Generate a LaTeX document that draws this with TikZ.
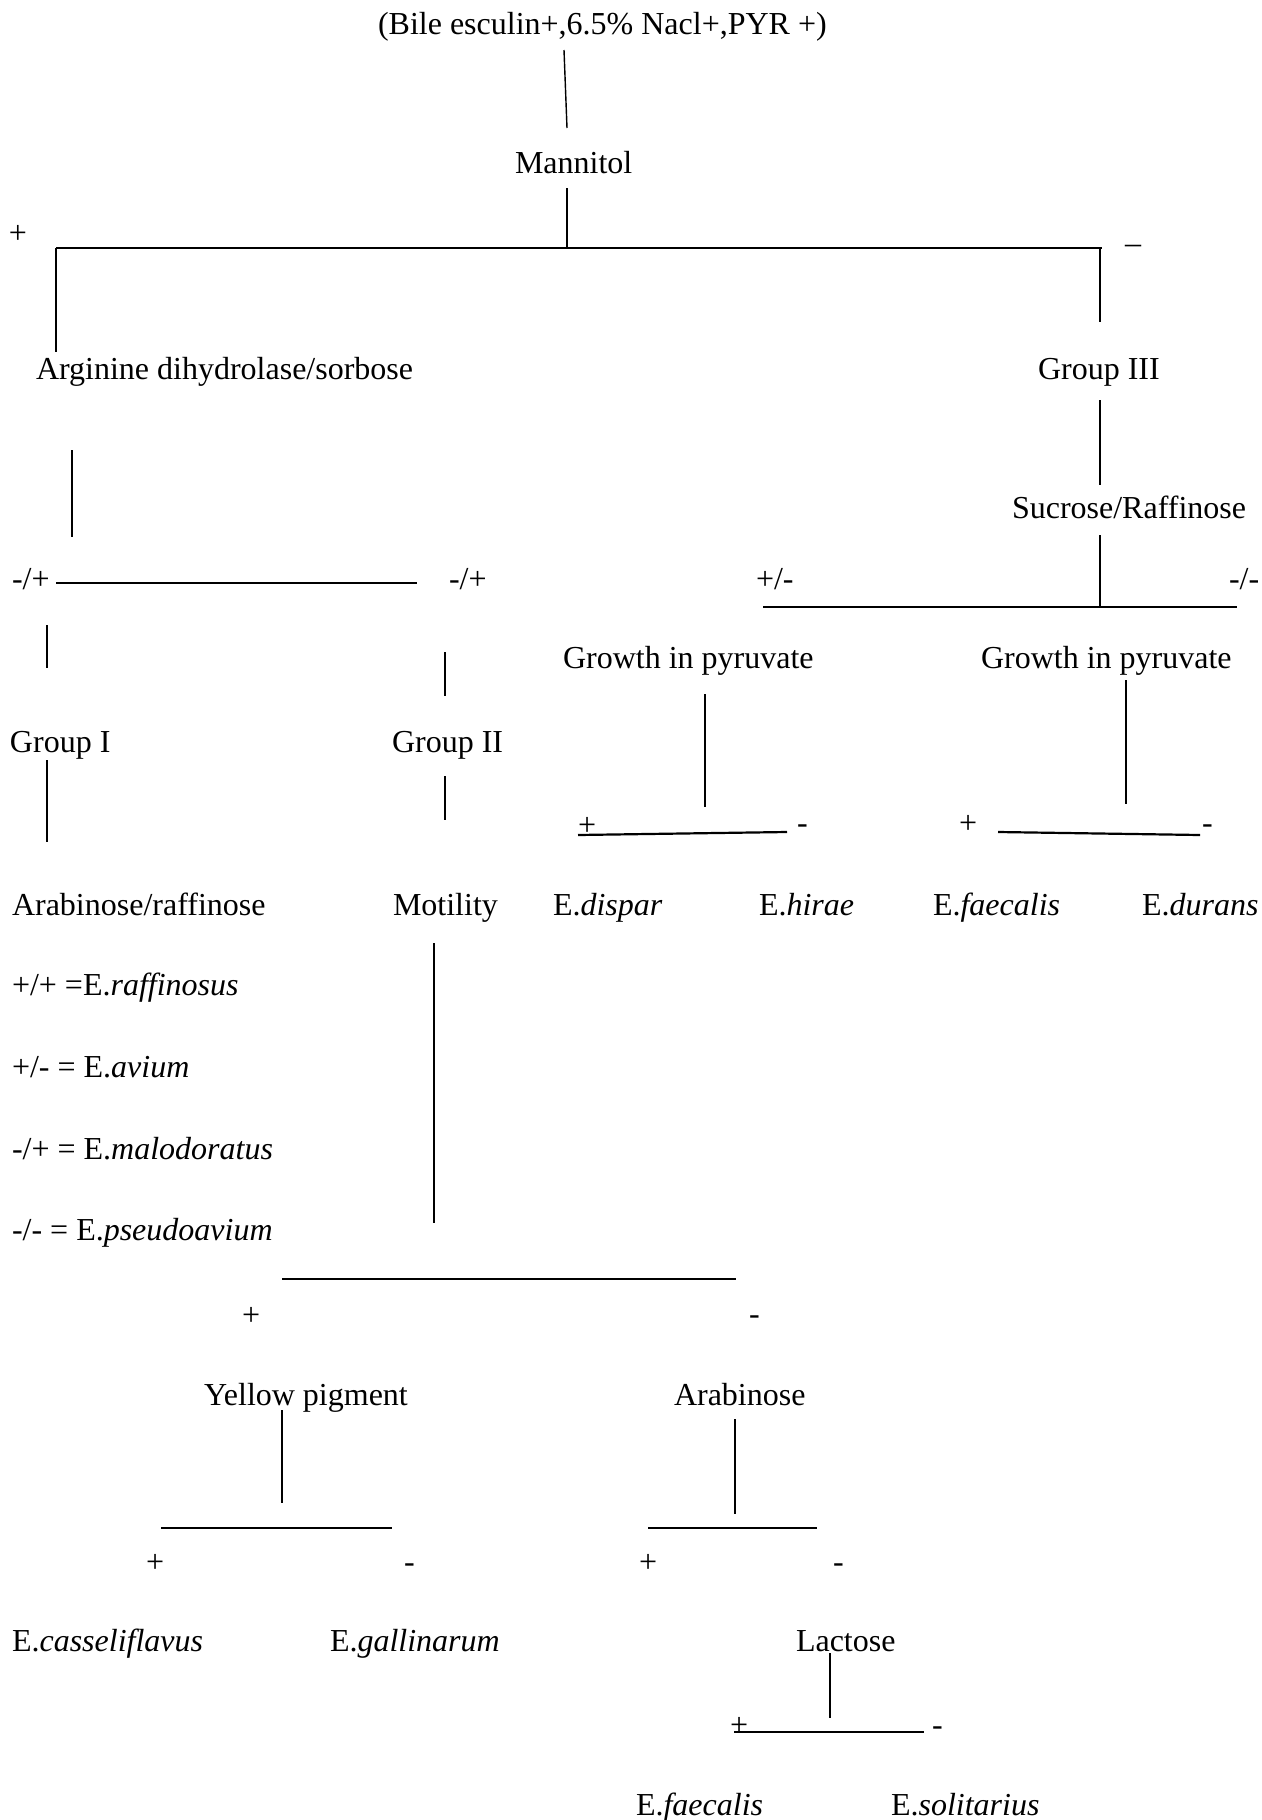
\documentclass[tikz,border=0pt]{standalone}
\usepackage{fontspec}
\setmainfont{Liberation Serif}
\begin{document}
\begin{tikzpicture}[x=0.5pt,y=-0.5pt,
  lbl/.style={anchor=base west,inner sep=0pt,outer sep=0pt,font=\fontsize{16pt}{19pt}\selectfont},
  vline/.style={line width=0.7pt},
  hline/.style={line width=1.1pt}]
\useasboundingbox[fill=white] (0,0) rectangle (1262,1820);
% texts
\node[lbl] (title) at (378,34) {(Bile esculin+,6.5\% Nacl+,PYR +)};
\node[lbl] (mannitol) at (515,173) {Mannitol};
\node[lbl] (pA) at (9,243) {+};
\node[lbl] (mA) at (1125,253) {--};
\node[lbl] (arg) at (36,379) {Arginine dihydrolase/sorbose};
\node[lbl] (g3) at (1038,379) {Group III};
\node[lbl] (suc) at (1012,518) {Sucrose/Raffinose};
\node[lbl] (mp1) at (12,589) {-/+};
\node[lbl] (mp2) at (449,589) {-/+};
\node[lbl] (pm) at (756,589) {+/-};
\node[lbl] (mm) at (1229,589) {-/-};
\node[lbl] (growth1) at (563,668) {Growth in pyruvate};
\node[lbl] (growth2) at (981,668) {Growth in pyruvate};
\node[lbl] (g1) at (10,752) {Group I};
\node[lbl] (g2) at (392,752) {Group II};
\node[lbl] (pB) at (578,835) {+};
\node[lbl] (mB) at (797,833) {-};
\node[lbl] (pC) at (959,833) {+};
\node[lbl] (mC) at (1202,833) {-};
\node[lbl] (arabraf) at (12,915) {Arabinose/raffinose};
\node[lbl] (motility) at (393,915) {Motility};
\node[lbl] (dispar) at (553,915) {E.\textit{dispar}};
\node[lbl] (hirae) at (759,915) {E.\textit{hirae}};
\node[lbl] (faecalis1) at (933,915) {E.\textit{faecalis}};
\node[lbl] (durans) at (1142,915) {E.\textit{durans}};
\node[lbl] (raff) at (12,995) {+/+ =E.\textit{raffinosus}};
\node[lbl] (avium) at (12,1077) {+/- = E.\textit{avium}};
\node[lbl] (malo) at (12,1159) {-/+ = E.\textit{malodoratus}};
\node[lbl] (pseudo) at (12,1240) {-/- = E.\textit{pseudoavium}};
\node[lbl] (pD) at (242,1325) {+};
\node[lbl] (mD) at (749,1324) {-};
\node[lbl] (yellow) at (204,1405) {Yellow pigment};
\node[lbl] (arab) at (674,1405) {Arabinose};
\node[lbl] (pE) at (146,1572) {+};
\node[lbl] (mE) at (404,1572) {-};
\node[lbl] (pF) at (639,1572) {+};
\node[lbl] (mF) at (833,1572) {-};
\node[lbl] (cass) at (12,1651) {E.\textit{casseliflavus}};
\node[lbl] (gall) at (330,1651) {E.\textit{gallinarum}};
\node[lbl] (lact) at (796,1651) {Lactose};
\node[lbl] (pG) at (730,1735) {+};
\node[lbl] (mG) at (932,1735) {-};
\node[lbl] (faecalis2) at (636,1815) {E.\textit{faecalis}};
\node[lbl] (solit) at (891,1815) {E.\textit{solitarius}};
% connectors
\draw[vline] (564,50) coordinate (a1) -- (567,128) coordinate (a2);
\draw[vline] (567,188) coordinate (b1) -- (567,248) coordinate (b2);
\draw[hline] (56,248) coordinate (h1a) -- (1102,248) coordinate (h1b);
\draw[vline] (h1a) -- (56,352) coordinate (c1);
\draw[vline] (1100,248) coordinate (d0) -- (1100,322) coordinate (d1);
\draw[vline] (1100,400) coordinate (e1) -- (1100,485) coordinate (e2);
\draw[vline] (1100,535) coordinate (f1) -- (1100,607) coordinate (f2);
\draw[hline] (763,607) coordinate (h2a) -- (1237,607) coordinate (h2b);
\draw[vline] (72,450) coordinate (g1a) -- (72,537) coordinate (g1b);
\draw[hline] (56,583) coordinate (h3a) -- (417,583) coordinate (h3b);
\draw[vline] (47,625) coordinate (i1) -- (47,668) coordinate (i2);
\draw[vline] (445,652) coordinate (j1) -- (445,696) coordinate (j2);
\draw[vline] (47,760) coordinate (k1) -- (47,842) coordinate (k2);
\draw[vline] (445,776) coordinate (l1) -- (445,820) coordinate (l2);
\draw[vline] (705,694) coordinate (m1) -- (705,807) coordinate (m2);
\draw[vline] (1126,680) coordinate (n1) -- (1126,804) coordinate (n2);
\draw[hline] (578,835) coordinate (h4a) -- (787,832) coordinate (h4b);
\draw[hline] (998,832) coordinate (h5a) -- (1200,835) coordinate (h5b);
\draw[vline] (434,943) coordinate (o1) -- (434,1223) coordinate (o2);
\draw[hline] (282,1279) coordinate (h6a) -- (736,1279) coordinate (h6b);
\draw[vline] (282,1410) coordinate (p1) -- (282,1503) coordinate (p2);
\draw[vline] (735,1419) coordinate (q1) -- (735,1514) coordinate (q2);
\draw[hline] (161,1528) coordinate (h7a) -- (392,1528) coordinate (h7b);
\draw[hline] (648,1528) coordinate (h8a) -- (817,1528) coordinate (h8b);
\draw[vline] (830,1653) coordinate (r1) -- (830,1718) coordinate (r2);
\draw[hline] (734,1732) coordinate (h9a) -- (924,1732) coordinate (h9b);
\end{tikzpicture}
\end{document}
